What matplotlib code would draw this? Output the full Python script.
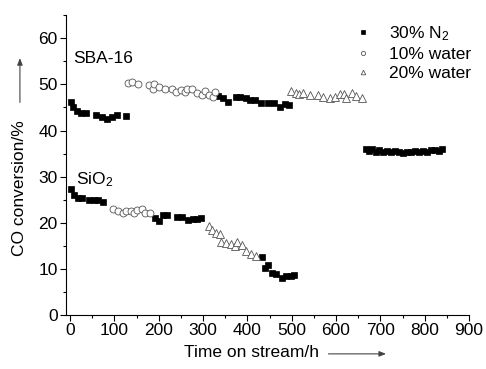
import matplotlib
matplotlib.use("Agg")
import matplotlib.pyplot as plt
from matplotlib.ticker import MultipleLocator

plt.rcParams["font.family"] = ["Liberation Sans", "DejaVu Sans"]
plt.rcParams["mathtext.fontset"] = "custom"
plt.rcParams["mathtext.rm"] = "Liberation Sans"
plt.rcParams["mathtext.it"] = "Liberation Sans"

# SBA-16
sba_n2_a_t = [1, 7, 16, 25, 36, 59, 72, 84, 95, 106, 126]
sba_n2_a_y = [46.2, 45.2, 44.2, 43.7, 43.7, 43.3, 43.0, 42.6, 43.0, 43.3, 43.1]
sba_w10_t = [131, 140, 154, 179, 186, 190, 201, 215, 230, 239, 250, 259, 264,
             275, 286, 298, 305, 313, 322, 327]
sba_w10_y = [50.2, 50.5, 50.1, 49.8, 49.1, 50.1, 49.4, 48.9, 49.1, 48.4, 48.7,
             48.4, 49.1, 48.9, 48.2, 47.8, 48.5, 47.6, 47.3, 48.3]
sba_n2_b_t = [333, 344, 356, 375, 384, 397, 407, 418, 431, 446, 461, 473, 484, 494]
sba_n2_b_y = [47.5, 47.1, 46.2, 47.3, 47.3, 47.1, 46.7, 46.7, 46.0, 46.0, 46.0,
              45.2, 45.7, 45.5]
sba_w20_t = [499, 510, 517, 525, 542, 559, 571, 586, 597, 608, 619, 623, 635, 645, 659]
sba_w20_y = [48.5, 48.2, 48.0, 48.2, 47.6, 47.8, 47.3, 47.0, 47.3, 48.0, 48.0,
             47.0, 48.2, 47.5, 47.1]
sba_n2_c_t = [668, 675, 682, 690, 698, 706, 715, 724, 733, 742, 751, 760, 769,
              778, 787, 796, 805, 814, 823, 832, 838]
sba_n2_c_y = [35.9, 35.5, 36.0, 35.4, 35.7, 35.3, 35.6, 35.4, 35.5, 35.3, 35.2,
              35.4, 35.3, 35.5, 35.4, 35.6, 35.3, 35.7, 35.8, 35.5, 36.0]

# SiO2
sio_n2_a_t = [2, 9, 17, 26, 43, 54, 64, 75]
sio_n2_a_y = [27.3, 26.1, 25.4, 25.4, 24.9, 25.0, 25.0, 24.6]
sio_w10_t = [96, 107, 120, 127, 137, 145, 152, 162, 170, 181]
sio_w10_y = [23.0, 22.5, 22.1, 22.6, 22.5, 22.2, 22.8, 23.0, 22.1, 22.1]
sio_n2_b_t = [192, 200, 209, 218, 241, 252, 265, 277, 287, 296]
sio_n2_b_y = [21.0, 20.3, 21.6, 21.7, 21.2, 21.2, 20.7, 20.9, 20.9, 21.0]
sio_w20_t = [313, 320, 329, 338, 341, 352, 363, 371, 376, 388, 396, 409, 420]
sio_w20_y = [19.3, 18.5, 17.8, 17.6, 15.8, 15.6, 15.4, 15.0, 15.9, 15.2, 13.8,
             13.3, 12.8]
sio_n2_c_t = [432, 439, 446, 456, 465, 478, 488, 498, 506]
sio_n2_c_y = [12.5, 10.3, 10.9, 9.2, 8.9, 8.1, 8.5, 8.5, 8.6]

n2_t = [sba_n2_a_t, sba_n2_b_t, sba_n2_c_t, sio_n2_a_t, sio_n2_b_t, sio_n2_c_t]
n2_y = [sba_n2_a_y, sba_n2_b_y, sba_n2_c_y, sio_n2_a_y, sio_n2_b_y, sio_n2_c_y]
w10_t = [sba_w10_t, sio_w10_t]
w10_y = [sba_w10_y, sio_w10_y]
w20_t = [sba_w20_t, sio_w20_t]
w20_y = [sba_w20_y, sio_w20_y]

FS = 12.5

fig = plt.figure(figsize=(4.86, 3.69), dpi=100)
ax = fig.add_axes([0.136, 0.146, 0.829, 0.813])

sq = dict(marker="s", ls="none", ms=5, mfc="black", mec="black", mew=0.5)
ci = dict(marker="o", ls="none", ms=5, mfc="white", mec="#555555", mew=0.6)
tr = dict(marker="^", ls="none", ms=5.5, mfc="white", mec="#555555", mew=0.6)

for i, (t, y) in enumerate(zip(n2_t, n2_y)):
    ax.plot(t, y, label="30% N$_2$" if i == 0 else None, **sq)
for i, (t, y) in enumerate(zip(w10_t, w10_y)):
    ax.plot(t, y, label="10% water" if i == 0 else None, **ci)
for i, (t, y) in enumerate(zip(w20_t, w20_y)):
    ax.plot(t, y, label="20% water" if i == 0 else None, **tr)

ax.set_xlim(-9, 900)
ax.set_ylim(0, 65)
ax.xaxis.set_major_locator(MultipleLocator(100))
ax.xaxis.set_minor_locator(MultipleLocator(50))
ax.yaxis.set_major_locator(MultipleLocator(10))
ax.yaxis.set_minor_locator(MultipleLocator(5))
ax.set_yticks(range(0, 61, 10))
ax.spines["top"].set_visible(False)
ax.spines["right"].set_visible(False)
ax.tick_params(which="major", direction="out", length=4, width=0.8,
               labelsize=FS, pad=2)
ax.tick_params(which="minor", direction="out", length=2.5, width=0.8)

ax.text(7, 55.5, "SBA-16", fontsize=FS, va="center")
ax.text(13.5, 29.4, "SiO$_2$", fontsize=FS, va="center")

leg = ax.legend(loc="upper left", bbox_to_anchor=(0.685, 1.022), frameon=False,
                fontsize=FS, handlelength=0.6, handletextpad=1.2,
                labelspacing=0.22, markerscale=0.6)

fig.text(0.041, 0.49, "CO conversion/%", rotation=90, ha="center", va="center",
         fontsize=FS)
fig.patches.append(matplotlib.patches.FancyArrowPatch(
    (0.041, 0.715), (0.041, 0.85), transform=fig.transFigure,
    arrowstyle="-|>,head_length=4,head_width=1.6", color="#444444", lw=0.8))
fig.text(0.518, 0.044, "Time on stream/h", ha="center", va="center", fontsize=FS)
fig.patches.append(matplotlib.patches.FancyArrowPatch(
    (0.670, 0.041), (0.800, 0.041), transform=fig.transFigure,
    arrowstyle="-|>,head_length=4,head_width=1.6", color="#444444", lw=0.8))

fig.savefig("out.png", dpi=100)
